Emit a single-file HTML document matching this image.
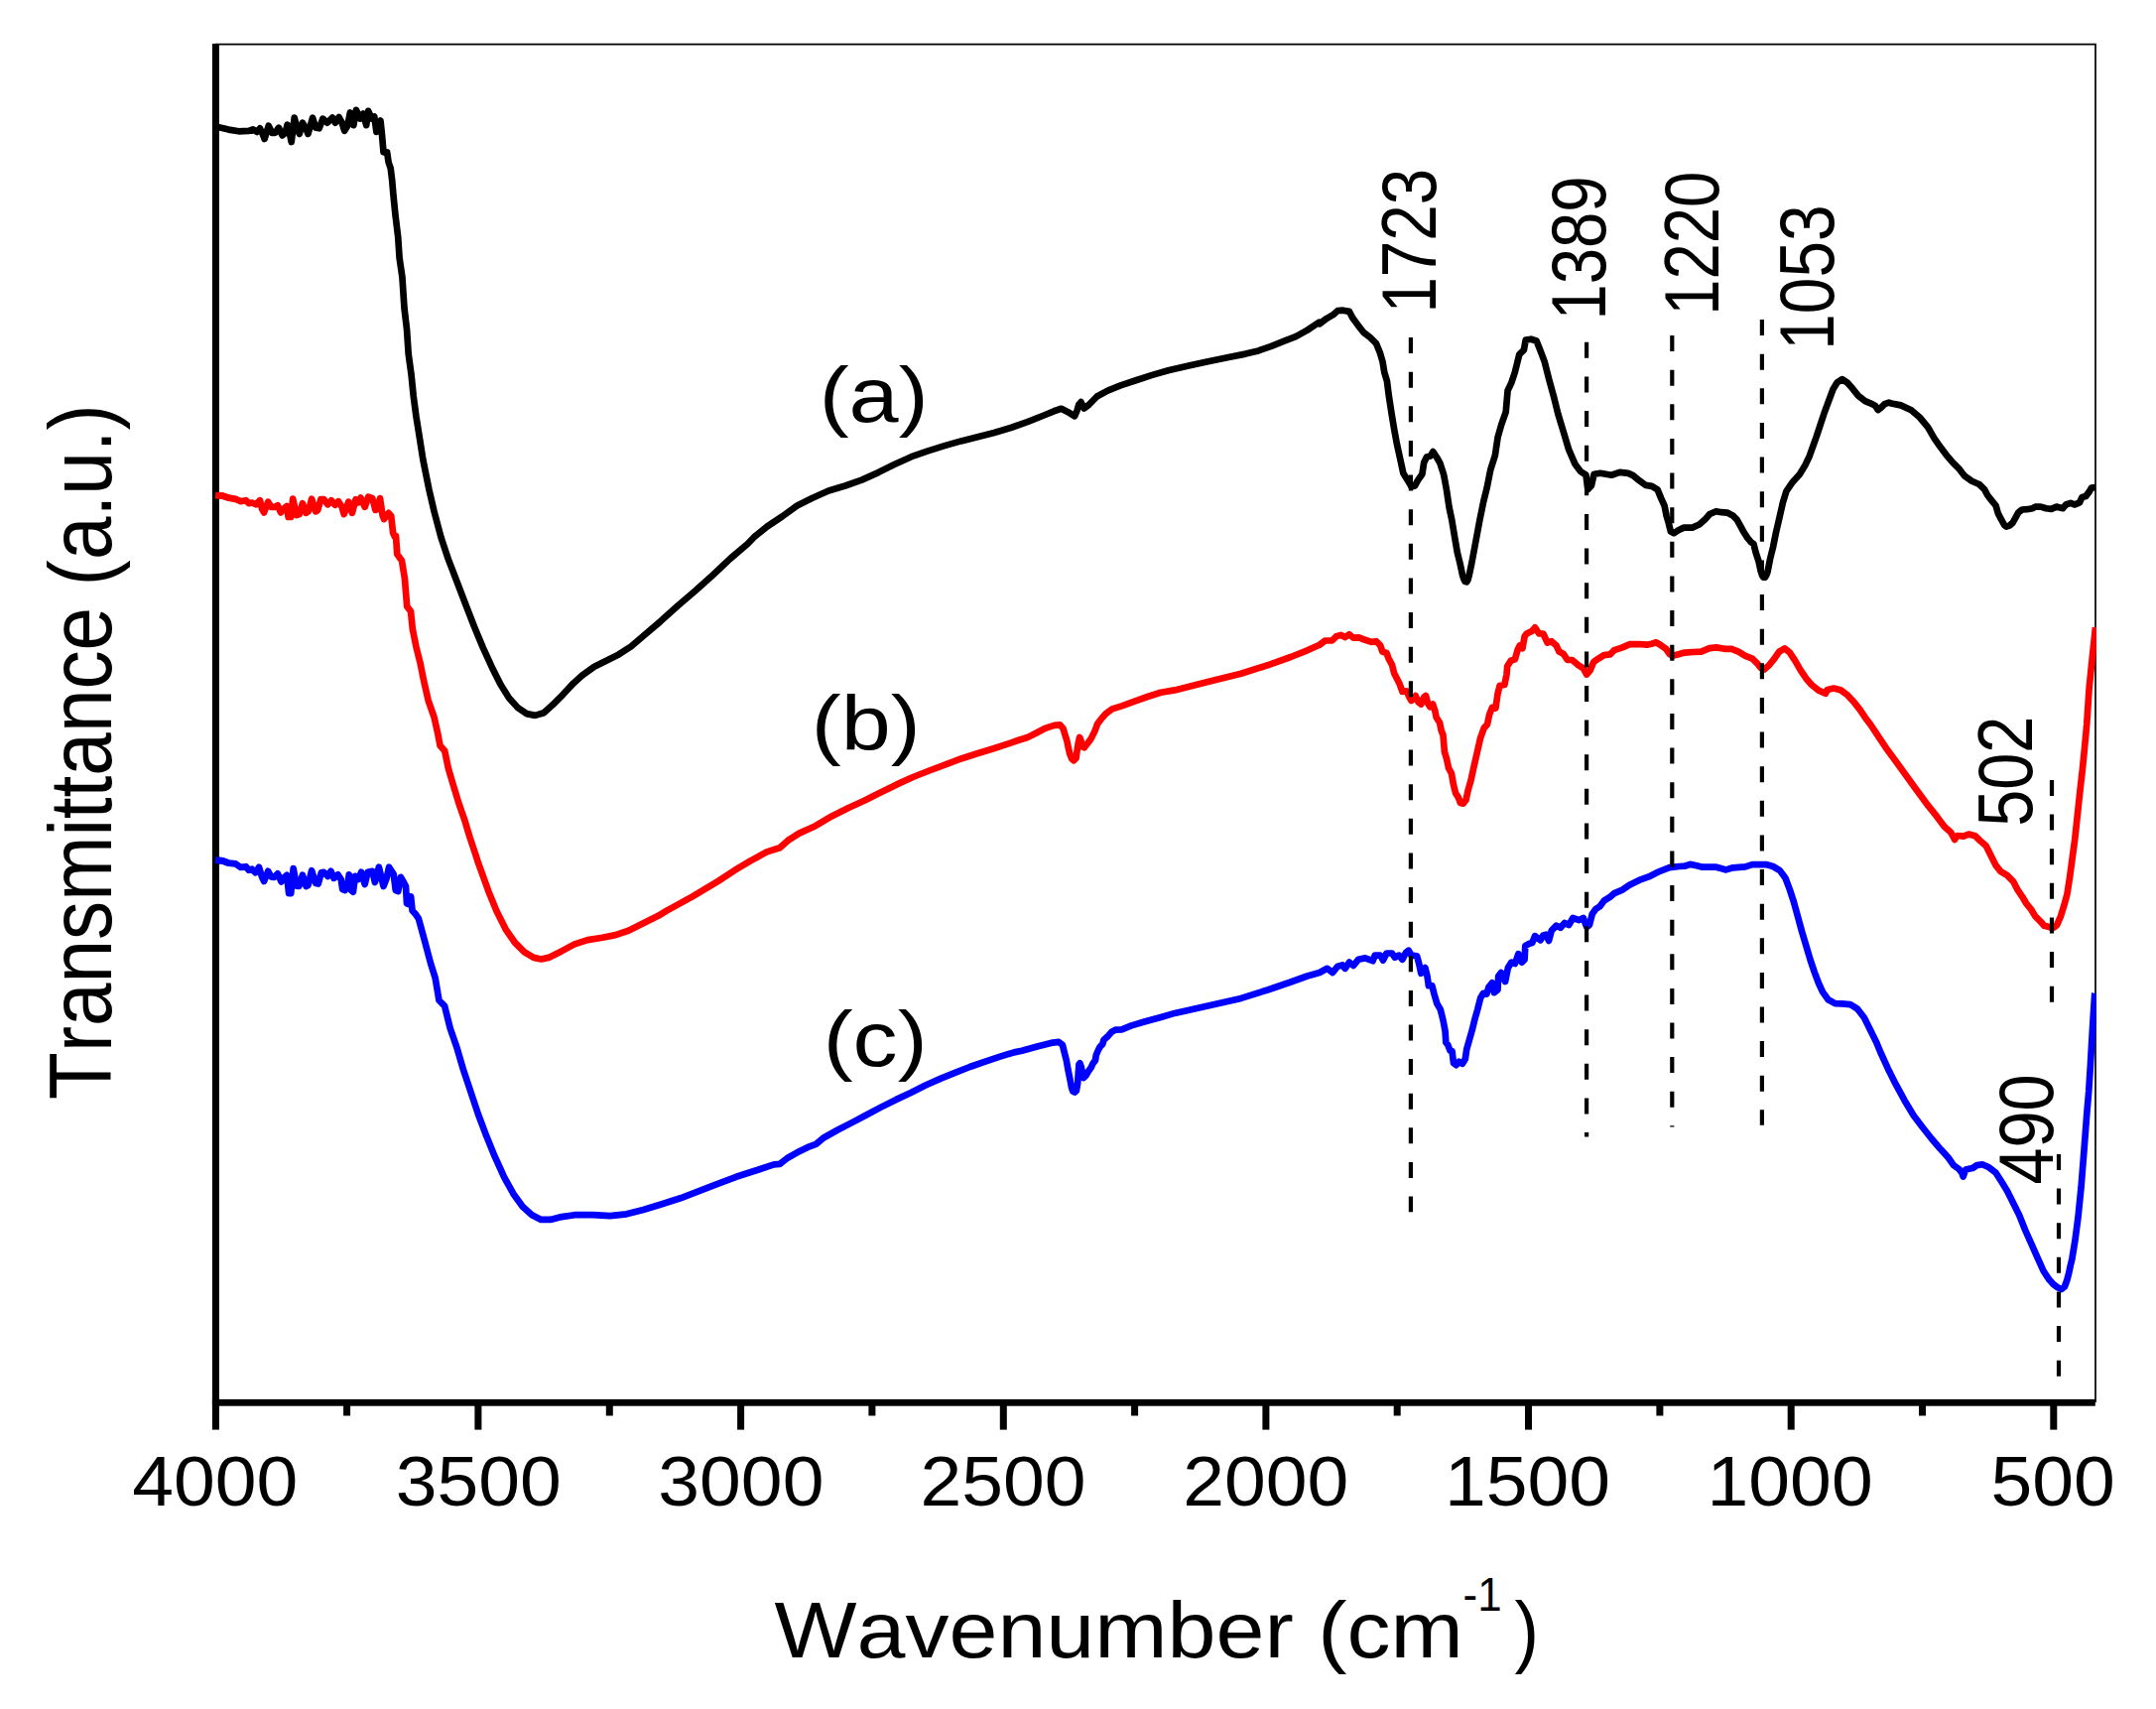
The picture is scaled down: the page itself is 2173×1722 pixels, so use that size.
<!DOCTYPE html>
<html><head><meta charset="utf-8"><title>FTIR spectra</title>
<style>
html,body{margin:0;padding:0;background:#fff;}
svg{display:block;}
text{font-family:"Liberation Sans",sans-serif;fill:#000;font-kerning:none;}
</style></head><body>
<svg width="2173" height="1722" viewBox="0 0 2173 1722">
<rect width="2173" height="1722" fill="#fff"/>

<defs><clipPath id="cp"><rect x="217.2" y="44" width="1895.8" height="1370"/></clipPath></defs>
<path d="M217,44.6 H2112 V1413" fill="none" stroke="#000" stroke-width="1.7"/>
<polyline clip-path="url(#cp)" points="217.5,127.6 220.7,128.3 230.4,130.6 240.6,132.3 250.8,131.8 254.9,130.3 259.0,132.9 262.0,129.3 264.6,134.9 266.6,140.0 270.7,126.7 274.3,133.9 277.3,133.9 280.9,128.8 284.5,136.4 287.5,133.9 289.6,125.7 291.6,132.9 293.7,143.0 296.7,118.6 299.8,130.8 301.8,134.9 304.9,123.7 308.0,128.8 310.5,134.9 315.1,118.6 318.2,128.8 321.7,129.3 325.3,119.6 329.9,123.7 335.0,118.6 338.0,123.7 341.6,118.0 344.7,123.7 347.2,131.8 350.3,126.7 352.9,113.5 356.4,126.2 359.0,110.9 363.0,119.6 366.1,114.5 369.2,126.2 371.2,111.9 374.8,119.6 377.3,117.6 379.4,132.9 382.4,123.7 383.5,121.6 385.0,135.9 386.5,153.3 390.1,153.3 391.6,163.5 393.7,169.6 395.2,181.8 395.9,190.0 396.3,194.7 398.4,215.8 401.2,238.9 402.6,260.0 405.4,278.9 407.5,310.5 410.0,331.6 411.7,356.8 414.6,377.9 416.7,398.9 419.5,420.0 422.2,436.8 425.8,459.8 427.0,466.3 432.3,492.7 437.6,515.5 444.6,541.8 451.6,562.9 460.4,585.7 469.1,608.5 477.9,631.3 486.7,652.4 495.5,671.7 504.3,689.3 513.0,703.3 521.8,713.0 530.6,719.1 539.4,720.9 548.1,718.2 556.9,710.3 567.4,699.8 578.0,688.4 586.8,680.5 599.0,671.7 613.1,664.7 623.6,659.4 635.9,651.5 648.2,641.0 665.7,626.1 683.3,610.3 700.8,595.3 718.4,579.5 736.0,562.9 753.5,548.0 760.0,541.2 773.4,530.4 788.4,520.4 803.4,509.5 818.4,502.0 835.1,494.5 851.8,489.5 868.5,483.6 885.2,476.1 901.9,467.8 918.6,460.2 935.3,454.4 952.0,449.1 968.7,444.4 985.4,440.2 1002.1,436.0 1018.8,431.0 1035.5,425.2 1052.2,418.5 1062.2,414.3 1069.7,411.8 1076.4,415.2 1083.1,419.3 1085.6,413.5 1087.3,407.6 1089.5,405.1 1092.6,411.5 1097.3,408.0 1105.6,399.5 1116.4,393.6 1129.4,388.4 1144.9,383.2 1160.5,378.1 1177.4,373.2 1196.9,368.7 1216.4,364.4 1235.8,360.5 1255.3,356.6 1268.3,353.4 1281.3,348.8 1294.3,343.6 1306.0,339.1 1317.7,332.6 1329.4,324.8 1330.0,326.3 1337.3,320.8 1343.6,317.2 1348.1,313.2 1353.6,312.7 1359.9,313.9 1363.6,320.8 1369.0,328.1 1374.4,335.0 1380.8,339.9 1387.1,346.2 1390.8,355.3 1393.5,364.4 1395.3,375.3 1398.0,384.3 1399.8,398.8 1402.6,417.0 1405.3,433.3 1408.0,447.8 1411.6,464.1 1414.3,476.8 1418.9,484.1 1422.5,490.4 1426.1,489.5 1428.9,484.1 1433.4,477.7 1435.2,465.9 1437.9,460.5 1441.6,459.6 1444.3,455.1 1447.9,460.5 1451.5,466.9 1455.2,478.6 1457.9,493.2 1460.6,511.3 1463.3,524.0 1466.0,540.3 1468.8,556.6 1471.5,567.5 1474.2,580.2 1475.5,583.8 1476.6,585.8 1478.2,586.4 1479.4,584.6 1480.6,580.2 1483.3,567.5 1486.0,553.0 1488.7,538.5 1491.4,524.0 1495.1,505.9 1498.7,491.3 1502.3,473.2 1506.9,458.7 1509.6,440.6 1513.2,427.9 1517.7,415.2 1519.6,393.4 1523.2,386.1 1526.8,375.3 1531.3,357.1 1535.9,352.6 1537.7,342.6 1543.1,341.7 1548.6,343.5 1552.2,352.6 1556.7,364.4 1561.3,382.5 1565.8,398.8 1570.3,417.0 1575.8,435.1 1581.2,453.2 1587.6,467.8 1593.0,475.0 1598.5,478.6 1600.3,493.2 1603.9,489.5 1606.6,477.7 1613.0,476.8 1620.0,478.0 1624.2,478.7 1632.6,475.9 1641.1,476.9 1646.0,479.1 1652.3,484.3 1658.6,488.9 1664.9,489.9 1670.6,493.4 1674.1,501.9 1677.6,509.6 1679.7,520.1 1681.8,527.1 1683.9,535.6 1687.1,537.2 1691.6,534.2 1697.2,531.6 1705.7,531.6 1712.7,528.5 1718.3,523.6 1723.2,518.0 1729.6,515.2 1735.2,516.2 1740.8,516.6 1746.4,519.4 1750.6,523.6 1754.1,529.9 1757.6,536.3 1761.2,541.9 1764.7,546.1 1767.5,548.2 1769.6,556.6 1772.4,565.1 1774.5,574.9 1776.0,579.6 1777.3,581.6 1778.9,581.8 1780.3,579.5 1781.5,576.3 1784.3,562.2 1787.1,551.0 1789.9,537.0 1793.5,521.5 1797.0,506.1 1800.5,494.8 1806.8,485.7 1813.8,478.0 1819.4,468.8 1823.7,459.7 1827.2,449.9 1830.7,440.1 1834.9,427.4 1839.1,414.8 1843.3,403.5 1847.5,392.3 1851.7,385.3 1856.7,382.2 1861.6,385.3 1867.2,391.6 1872.8,398.6 1879.8,404.2 1886.9,407.1 1890.4,409.2 1892.8,413.1 1896.0,410.6 1899.5,407.1 1903.7,405.6 1906.3,406.5 1915.8,408.4 1926.3,413.2 1934.8,420.5 1943.2,430.6 1949.5,441.6 1955.8,450.6 1962.1,459.0 1968.5,466.4 1974.8,472.7 1980.0,479.5 1987.4,484.8 1994.8,488.0 2000.1,493.2 2003.2,499.0 2007.4,504.3 2011.6,509.5 2013.7,516.9 2016.9,523.2 2020.1,529.0 2022.2,530.6 2025.3,529.6 2028.5,526.9 2031.7,521.1 2034.3,516.4 2038.0,513.5 2043.2,513.2 2048.5,512.2 2051.7,510.6 2056.9,510.6 2062.2,512.2 2067.5,512.9 2072.7,510.6 2079.0,512.2 2082.2,508.5 2086.9,506.9 2091.2,508.5 2095.9,506.4 2098.5,501.1 2102.2,500.1 2105.4,495.9 2108.0,491.6 2112.0,491.0" fill="none" stroke="#000" stroke-width="6.7" stroke-linejoin="round" stroke-linecap="butt"/>
<polyline clip-path="url(#cp)" points="217.1,499.1 224.3,499.6 230.4,501.6 237.6,502.9 242.7,505.2 247.8,504.2 250.8,507.2 254.0,506.5 258.0,508.3 262.0,504.2 264.1,512.9 266.1,516.4 270.2,505.7 273.3,510.8 276.5,511.0 279.9,509.3 283.0,516.4 286.5,512.0 289.0,510.0 290.6,521.0 293.0,521.0 295.2,502.7 298.8,519.0 301.8,518.0 304.9,507.2 308.5,516.9 311.0,515.0 314.1,502.7 318.2,515.4 320.2,514.0 323.3,503.2 326.3,503.2 330.4,508.3 334.0,504.2 337.6,508.8 341.1,505.2 344.7,511.0 346.7,518.0 351.3,505.7 354.9,516.9 358.5,503.2 361.5,506.2 363.6,501.6 367.7,510.8 371.2,500.6 375.3,502.1 378.4,513.9 380.4,513.0 383.0,502.1 385.5,519.0 387.0,523.1 391.6,516.9 394.2,520.0 396.2,537.3 398.3,541.4 399.0,540.0 400.3,558.4 405.0,565.0 407.9,582.8 410.2,610.9 414.0,616.1 415.8,633.7 419.3,651.2 423.7,668.8 427.2,686.3 431.6,705.6 437.7,723.2 441.2,738.9 443.5,751.2 448.2,756.5 451.8,774.0 457.0,791.6 462.3,809.1 468.4,826.7 473.7,844.2 478.9,859.8 481.9,869.2 492.4,898.2 500.5,918.0 509.9,936.8 519.2,950.0 528.6,959.3 537.9,964.9 545.4,966.5 552.9,964.9 566.0,958.4 579.1,951.4 592.2,947.1 607.2,944.7 620.3,942.1 633.4,937.8 648.4,930.3 663.4,922.8 671.5,917.9 697.9,903.4 724.2,887.6 740.0,877.2 756.4,867.4 772.8,858.4 785.9,854.3 794.1,846.9 805.5,839.6 821.9,832.2 838.3,822.4 854.7,814.2 871.1,806.8 887.5,798.6 903.9,790.4 920.2,783.0 936.6,776.5 953.0,770.4 969.4,764.2 985.8,759.0 1002.2,754.0 1018.6,748.6 1026.0,746.0 1034.9,743.2 1039.7,740.9 1052.7,734.2 1062.5,730.9 1068.3,730.3 1071.6,734.2 1073.5,740.6 1075.5,747.1 1076.8,753.6 1078.4,760.1 1080.3,764.7 1082.3,766.3 1084.5,764.0 1085.8,754.9 1086.8,748.4 1088.1,742.9 1089.4,745.8 1090.7,752.3 1092.7,753.3 1095.6,749.7 1099.5,744.5 1103.4,736.8 1106.0,729.6 1109.9,724.4 1114.4,719.2 1120.9,714.4 1130.6,711.4 1143.6,706.6 1156.6,702.0 1170.0,697.8 1184.0,695.4 1217.4,687.0 1250.8,678.7 1277.5,670.3 1300.9,662.0 1317.6,655.3 1330.0,649.7 1335.6,645.5 1342.5,645.5 1346.7,641.3 1351.6,639.9 1355.7,642.0 1359.9,639.2 1364.1,642.7 1369.7,642.3 1375.9,644.8 1382.2,646.9 1387.0,646.2 1391.2,650.4 1393.3,656.6 1397.5,658.0 1399.6,663.6 1403.0,669.8 1405.1,678.2 1407.9,683.7 1410.7,689.3 1413.5,697.0 1417.7,696.3 1420.4,702.5 1422.5,706.0 1426.7,701.1 1429.5,707.4 1432.3,709.5 1435.1,702.5 1437.1,701.1 1439.2,708.8 1441.3,712.3 1444.1,709.5 1446.2,715.7 1447.6,722.7 1451.1,728.3 1452.4,735.2 1454.5,740.8 1455.9,757.5 1458.0,764.4 1460.1,774.2 1462.9,779.1 1465.0,790.9 1467.1,799.2 1469.8,803.4 1471.9,809.0 1474.7,809.7 1477.5,806.2 1479.6,796.4 1482.4,786.7 1485.1,774.2 1488.6,758.9 1492.1,743.6 1495.6,733.8 1499.1,729.7 1501.1,719.9 1503.9,713.0 1507.4,713.7 1509.5,699.1 1511.6,690.7 1516.4,690.0 1518.5,679.6 1519.2,671.2 1522.7,665.7 1526.9,664.3 1529.7,654.5 1531.8,650.4 1534.5,653.1 1536.6,641.3 1538.7,638.5 1544.3,635.7 1547.1,632.3 1551.2,638.5 1555.4,638.5 1559.6,647.6 1563.8,646.2 1568.6,650.4 1571.4,656.6 1575.6,658.7 1579.8,665.0 1584.6,665.0 1590.2,669.8 1595.8,673.3 1599.2,679.6 1602.7,675.4 1606.2,667.0 1611.1,663.6 1616.6,660.1 1622.8,659.4 1627.0,655.2 1635.3,652.4 1642.3,649.2 1652.0,649.0 1659.7,649.7 1664.5,648.7 1669.4,647.3 1674.3,650.4 1679.1,653.8 1682.6,658.7 1685.4,660.8 1691.0,659.4 1697.9,657.6 1706.3,657.0 1714.6,656.6 1723.0,653.1 1729.9,652.4 1738.3,653.8 1745.2,653.8 1752.2,656.6 1759.1,660.8 1766.1,663.6 1771.0,668.4 1774.4,672.6 1777.9,674.7 1782.8,670.5 1788.4,663.6 1793.2,656.6 1798.8,653.4 1803.7,657.3 1809.2,665.7 1814.8,675.4 1820.4,683.7 1825.9,690.0 1832.9,695.6 1839.8,698.8 1841.9,694.9 1848.2,693.5 1855.1,695.2 1862.1,700.4 1869.1,708.1 1874.6,715.1 1880.2,723.4 1885.2,730.0 1892.9,741.6 1900.6,753.2 1910.9,767.3 1921.2,781.5 1931.5,795.7 1941.8,809.8 1952.1,822.7 1959.8,833.0 1966.3,838.8 1968.8,843.3 1970.1,845.9 1972.7,842.0 1979.1,842.7 1984.3,840.5 1990.7,842.3 1995.9,847.2 2001.7,852.3 2006.2,861.3 2011.3,871.6 2016.5,878.1 2022.9,881.9 2029.3,888.4 2033.2,896.1 2038.4,903.8 2042.2,910.3 2047.4,916.7 2051.2,923.1 2056.4,928.3 2060.3,932.8 2065.4,934.1 2069.9,934.7 2073.1,932.1 2077.0,923.1 2080.2,912.8 2083.4,901.2 2086.0,884.5 2088.6,865.2 2091.2,845.9 2093.7,822.7 2096.3,798.2 2098.9,775.1 2100.9,755.0 2103.2,730.0 2105.6,693.7 2108.5,665.0 2112.0,632.0" fill="none" stroke="#f00" stroke-width="6.7" stroke-linejoin="round" stroke-linecap="butt"/>
<polyline clip-path="url(#cp)" points="217.1,866.7 224.3,867.3 230.4,869.6 237.6,870.4 242.7,873.9 247.8,873.2 250.8,876.7 254.0,875.7 257.4,879.3 261.0,873.7 264.1,883.9 266.1,888.0 270.2,877.8 273.3,883.4 276.3,884.0 279.9,880.3 283.5,888.5 286.5,884.0 289.1,881.8 291.1,900.2 293.2,900.2 295.7,875.2 298.8,892.6 301.3,893.0 304.9,881.8 308.5,893.1 310.5,892.0 314.1,877.2 318.2,890.0 320.7,890.5 323.8,879.3 326.3,878.8 330.4,882.9 333.5,877.8 336.5,884.9 340.6,881.3 343.7,886.0 345.2,896.1 347.8,897.0 350.3,891.0 351.8,881.3 353.9,897.0 355.9,898.7 358.0,882.9 361.0,886.0 364.1,878.8 367.7,891.0 370.7,878.8 375.3,877.8 377.9,889.0 381.9,873.7 386.5,893.1 389.6,885.0 392.1,873.7 396.7,880.8 398.8,897.1 401.3,898.0 403.9,883.9 406.9,889.0 409.0,893.0 410.0,910.4 412.6,911.4 414.1,903.3 415.6,917.6 419.2,921.6 421.9,925.6 427.5,946.2 434.0,970.5 438.7,985.5 442.5,1008.0 448.1,1013.6 453.7,1036.1 460.2,1054.8 466.8,1077.2 474.3,1099.7 481.8,1122.2 490.2,1144.6 498.6,1165.2 508.0,1185.8 517.3,1202.7 526.7,1215.8 536.1,1224.2 545.4,1228.9 554.8,1228.9 566.0,1226.1 579.1,1224.2 597.8,1224.2 614.7,1225.1 631.5,1223.3 648.4,1219.0 667.1,1213.3 685.8,1207.3 704.5,1200.2 723.3,1192.9 742.0,1185.8 760.7,1179.8 780.0,1173.3 786.0,1172.9 793.4,1167.0 803.8,1161.1 814.2,1155.9 822.4,1152.9 830.5,1146.2 843.9,1138.8 858.7,1131.1 873.6,1123.2 888.4,1115.4 903.3,1107.9 918.1,1101.0 932.9,1093.5 947.8,1086.9 962.6,1080.9 977.5,1075.0 992.3,1069.8 1007.2,1064.9 1022.0,1060.4 1030.0,1058.7 1046.2,1054.2 1059.2,1050.9 1067.0,1049.9 1070.9,1052.9 1072.5,1059.4 1074.8,1068.4 1076.4,1077.5 1078.4,1087.3 1080.0,1095.7 1081.3,1099.6 1083.2,1100.6 1084.9,1099.0 1086.2,1091.2 1086.8,1081.4 1087.5,1072.3 1088.4,1071.4 1089.7,1074.9 1091.0,1081.4 1092.3,1086.0 1094.3,1084.0 1096.9,1079.5 1099.8,1075.6 1101.4,1071.7 1104.0,1068.4 1104.7,1063.2 1106.6,1058.7 1108.6,1054.8 1111.2,1052.2 1112.5,1047.7 1116.4,1044.4 1120.3,1039.9 1124.2,1037.6 1130.6,1037.3 1140.4,1033.4 1153.4,1029.5 1170.0,1024.9 1184.0,1020.9 1217.4,1013.6 1250.8,1005.9 1277.5,997.5 1300.9,989.5 1317.6,983.5 1330.0,980.0 1337.7,975.8 1343.2,980.0 1348.1,973.7 1353.0,972.4 1355.7,975.8 1359.9,969.6 1364.1,973.0 1369.0,966.8 1375.9,965.4 1383.6,968.2 1385.7,962.6 1391.2,962.6 1394.0,967.5 1397.5,960.5 1403.0,960.5 1405.8,964.7 1410.0,962.6 1413.5,966.8 1417.0,959.8 1419.7,957.7 1422.5,962.6 1428.1,963.3 1430.2,971.0 1432.3,980.7 1436.4,975.1 1438.5,983.5 1439.9,993.2 1443.4,993.2 1445.5,1001.6 1448.3,1011.3 1451.7,1016.9 1454.5,1028.0 1456.6,1039.1 1457.3,1050.3 1459.4,1053.1 1461.5,1058.6 1463.6,1059.3 1465.0,1071.1 1467.7,1073.2 1470.5,1069.8 1474.0,1071.8 1476.8,1067.0 1478.2,1057.2 1481.0,1047.5 1483.8,1037.7 1486.5,1026.6 1489.3,1016.9 1492.1,1005.7 1494.9,1000.9 1498.4,1001.6 1500.4,994.6 1503.9,990.4 1506.0,1000.2 1509.5,997.4 1510.2,983.5 1513.0,980.0 1517.1,989.0 1519.9,975.1 1523.4,969.6 1526.9,971.0 1530.4,961.2 1533.8,969.6 1536.6,966.8 1537.3,952.9 1541.5,950.8 1544.3,950.1 1547.1,943.1 1552.6,947.3 1555.4,942.4 1558.2,941.7 1561.0,948.0 1563.8,937.6 1568.6,932.7 1572.8,934.8 1577.0,929.9 1581.2,932.0 1585.3,925.0 1591.6,927.1 1595.8,925.0 1599.2,934.1 1602.0,932.0 1604.8,920.9 1608.3,916.0 1612.5,913.2 1616.6,907.7 1622.2,904.2 1627.0,900.1 1635.3,896.6 1642.3,891.7 1652.0,886.9 1661.7,883.4 1671.5,878.5 1682.6,874.1 1692.4,873.0 1697.9,872.7 1703.5,870.9 1709.0,872.0 1716.0,873.7 1729.9,873.7 1735.5,875.3 1739.7,876.4 1746.6,874.3 1759.1,873.4 1766.1,871.1 1780.0,871.1 1787.0,873.0 1793.9,877.1 1799.5,884.8 1803.7,895.9 1807.8,908.4 1812.0,923.7 1816.2,939.0 1820.4,953.0 1824.5,966.9 1828.7,979.4 1832.9,990.5 1837.1,999.6 1842.6,1007.2 1849.6,1011.1 1856.5,1011.4 1864.9,1012.1 1871.8,1016.3 1878.8,1025.3 1884.4,1036.4 1891.3,1050.4 1895.2,1060.0 1902.8,1076.7 1910.4,1091.9 1919.5,1108.7 1928.7,1123.9 1937.8,1136.0 1946.9,1147.5 1956.0,1158.1 1963.7,1166.5 1969.0,1174.1 1974.3,1177.9 1977.3,1181.7 1978.6,1185.5 1981.1,1178.6 1988.0,1177.1 1992.5,1174.1 1997.9,1173.3 2004.7,1176.3 2011.6,1181.7 2016.9,1190.0 2023.0,1199.9 2029.0,1212.1 2035.1,1224.3 2041.2,1239.5 2047.3,1253.2 2053.4,1266.8 2059.5,1280.5 2065.3,1289.3 2069.5,1294.0 2073.9,1297.3 2077.8,1299.0 2080.9,1296.5 2083.1,1290.5 2084.9,1284.0 2086.6,1276.0 2088.4,1268.4 2091.4,1250.1 2094.4,1227.3 2097.5,1196.9 2100.5,1158.9 2103.4,1120.8 2105.2,1100.0 2106.8,1075.0 2108.6,1043.0 2110.0,1020.0 2111.2,1002.0 2111.5,1001.0" fill="none" stroke="#00f" stroke-width="6.7" stroke-linejoin="round" stroke-linecap="butt"/>
<line x1="1421.9" y1="340.1" x2="1421.9" y2="1221.3" stroke="#000" stroke-width="4.2" stroke-dasharray="16 18.62"/>
<line x1="1599.1" y1="344.8" x2="1599.1" y2="1145.5" stroke="#000" stroke-width="4.2" stroke-dasharray="16 18.62"/>
<line x1="1685.3" y1="338.1" x2="1685.3" y2="1135.5" stroke="#000" stroke-width="4.2" stroke-dasharray="16 18.62"/>
<line x1="1775.9" y1="322.1" x2="1775.9" y2="1133.8" stroke="#000" stroke-width="4.2" stroke-dasharray="16 18.62"/>
<line x1="2068.0" y1="786.0" x2="2068.0" y2="1010.0" stroke="#000" stroke-width="4.2" stroke-dasharray="16 18.62"/>
<line x1="2075.0" y1="1163.0" x2="2075.0" y2="1387" stroke="#000" stroke-width="4.2" stroke-dasharray="16 18.62"/>
<rect x="213.9" y="44" width="7" height="1396.6" fill="#000"/>
<rect x="213.9" y="1409.9" width="1897.9" height="6.8" fill="#000"/>
<polyline points="217.1,499.1 224.3,499.6 230.4,501.6" fill="none" stroke="#f00" stroke-width="6.7"/>
<polyline points="217.1,866.7 224.3,867.3 230.4,869.6" fill="none" stroke="#00f" stroke-width="6.7"/>
<rect x="478.4" y="1410" width="7" height="30.6" fill="#000"/>
<rect x="743.1" y="1410" width="7" height="30.6" fill="#000"/>
<rect x="1007.8" y="1410" width="7" height="30.6" fill="#000"/>
<rect x="1272.4" y="1410" width="7" height="30.6" fill="#000"/>
<rect x="1537.0" y="1410" width="7" height="30.6" fill="#000"/>
<rect x="1801.7" y="1410" width="7" height="30.6" fill="#000"/>
<rect x="2066.3" y="1410" width="7" height="30.6" fill="#000"/>
<rect x="346.1" y="1410" width="7" height="16.5" fill="#000"/>
<rect x="610.8" y="1410" width="7" height="16.5" fill="#000"/>
<rect x="875.4" y="1410" width="7" height="16.5" fill="#000"/>
<rect x="1140.1" y="1410" width="7" height="16.5" fill="#000"/>
<rect x="1404.7" y="1410" width="7" height="16.5" fill="#000"/>
<rect x="1669.4" y="1410" width="7" height="16.5" fill="#000"/>
<rect x="1934.0" y="1410" width="7" height="16.5" fill="#000"/>
<text transform="translate(133.24,1517.05) scale(1.0729,0.9980)" font-size="70">4000</text>
<text transform="translate(398.70,1517.05) scale(1.0729,0.9980)" font-size="70">3500</text>
<text transform="translate(663.35,1517.05) scale(1.0729,0.9980)" font-size="70">3000</text>
<text transform="translate(927.59,1517.05) scale(1.0729,0.9980)" font-size="70">2500</text>
<text transform="translate(1192.24,1517.05) scale(1.0729,0.9980)" font-size="70">2000</text>
<text transform="translate(1455.95,1517.05) scale(1.0729,0.9980)" font-size="70">1500</text>
<text transform="translate(1720.60,1517.05) scale(1.0729,0.9980)" font-size="70">1000</text>
<text transform="translate(2006.42,1517.05) scale(1.0729,0.9980)" font-size="70">500</text>
<text transform="translate(780.47,1670.32) scale(1.2572,1.1295)" font-size="70">Wavenumber (cm<tspan x="552.14" y="-41.90" font-size="42.13" textLength="30.99" lengthAdjust="spacingAndGlyphs">-1</tspan><tspan x="593.47" y="0" font-size="70" textLength="19.54" lengthAdjust="spacingAndGlyphs">)</tspan></text>
<text transform="translate(112.23,1107.88) scale(1.2598,1.1186) rotate(-90)" font-size="70">Transmittance (a.u.)</text>
<text transform="translate(1447.07,315.62) scale(1.1111,0.9372) rotate(-90)" font-size="70">1723</text>
<text transform="translate(1617.97,322.59) scale(1.1035,0.9317) rotate(-90)" font-size="70">1389</text>
<text transform="translate(1732.17,317.80) scale(1.1095,0.9327) rotate(-90)" font-size="70">1220</text>
<text transform="translate(1848.27,352.73) scale(1.1095,0.9399) rotate(-90)" font-size="70">1053</text>
<text transform="translate(2048.17,832.82) scale(1.1095,0.9520) rotate(-90)" font-size="70">502</text>
<text transform="translate(2069.07,1193.53) scale(1.1091,0.9520) rotate(-90)" font-size="70">490</text>
<text transform="translate(825.64,424.91) scale(1.2857,1.1234)" font-size="70">(a)</text>
<text transform="translate(817.74,755.93) scale(1.2844,1.1218)" font-size="70">(b)</text>
<text transform="translate(829.63,1074.09) scale(1.2863,1.1249)" font-size="70">(c)</text>
</svg></body></html>
